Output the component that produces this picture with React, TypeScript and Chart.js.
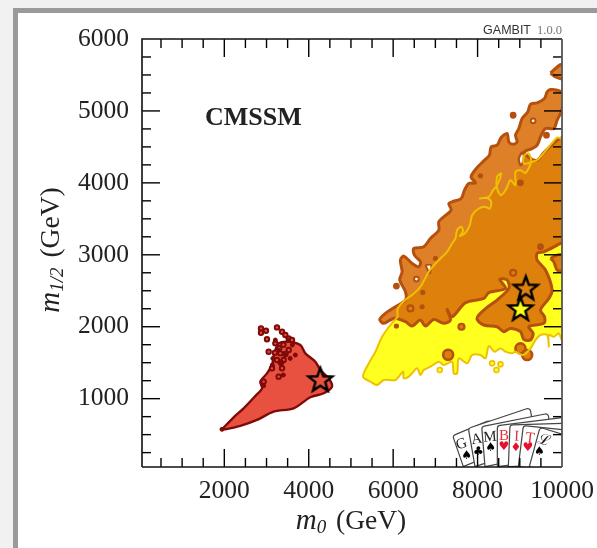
import React, { useEffect, useRef } from "react";
import { Chart, registerables } from "chart.js";

Chart.register(...registerables);

const xTicksMajor = [2000, 4000, 6000, 8000, 10000];
const yTicksMajor = [1000, 2000, 3000, 4000, 5000, 6000];
const xTicksMinor = [500, 1000, 1500, 2500, 3000, 3500, 4500, 5000, 5500, 6500, 7000, 7500, 8500, 9000, 9500];
const yTicksMinor = [250, 500, 750, 1250, 1500, 1750, 2250, 2500, 2750, 3250, 3500, 3750, 4250, 4500, 4750, 5250, 5500, 5750];

type P = [number, number];

const yellowRegion: P[] = [
  [6109, 2139], [6109, 2255], [6330, 2394], [6449, 2440], [6646, 2556], [6844, 2764], [7041, 2903], [7278, 3042],
  [7397, 3158], [7476, 3227], [7515, 3343], [7610, 3389], [7657, 3329], [7578, 3260], [7713, 3306], [7815, 3412],
  [7871, 3551], [8029, 3644], [8187, 3667], [8289, 3644], [8321, 3737], [8210, 3792], [8052, 3783], [8266, 3806],
  [8368, 3899], [8463, 3968], [8558, 4130], [8463, 4084], [8463, 3922], [8558, 3829], [8684, 3922], [8779, 4037],
  [8898, 3968], [8898, 4153], [9016, 4176], [9135, 4139], [9269, 4292], [9214, 4408], [9111, 4385], [9095, 4269],
  [9293, 4292], [9427, 4325], [9688, 4500], [9885, 4630], [9980, 4616], [10040, 4616], [10040, 1815],
  [9996, 1815], [9925, 1908], [9806, 1861], [9688, 1885], [9688, 1723], [9648, 1885], [9490, 1885], [9372, 1815],
  [9253, 1699], [9079, 1607], [8898, 1653], [8819, 1630], [8660, 1653], [8542, 1699], [8400, 1653], [8266, 1732],
  [8187, 1560], [8068, 1607], [7871, 1607], [7752, 1491], [7555, 1560], [7515, 1352], [7436, 1352], [7397, 1514],
  [7199, 1468], [7081, 1514], [6883, 1445], [6725, 1398], [6646, 1329], [6567, 1422], [6370, 1306], [6251, 1283],
  [6235, 1375], [6054, 1260], [5777, 1260], [5619, 1190], [5461, 1236], [5287, 1306], [5422, 1491], [5580, 1653],
  [5738, 1861], [5935, 2024], [6109, 2139],
];

const orangeRegion: P[] = [
  [10040, 4640], [9885, 4590], [9569, 4420], [9411, 4315], [9253, 4338], [9111, 4431], [9293, 4477], [9411, 4524],
  [9490, 4639], [9609, 4755], [9806, 4755], [9885, 4871], [9996, 5010], [10040, 5241], [9885, 5288], [9727, 5297],
  [9648, 5264], [9585, 5172], [9411, 5112], [9253, 5093], [9190, 4987], [9056, 4894], [8977, 4755], [8898, 4663],
  [8937, 4570], [8842, 4537], [8740, 4570], [8700, 4686], [8558, 4630], [8463, 4524], [8321, 4500], [8281, 4385],
  [8147, 4306], [8005, 4223], [7871, 4121], [7847, 4075], [7950, 4000], [7791, 3991], [7689, 3899], [7610, 3783],
  [7397, 3737], [7318, 3713], [7373, 3621], [7199, 3528], [7081, 3459], [7081, 3343], [6883, 3227], [6725, 3111],
  [6488, 3088], [6504, 2996], [6646, 2903], [6607, 2834], [6449, 2880], [6251, 2982], [6172, 2926], [6212, 2764],
  [6156, 2649], [6291, 2487], [6291, 2371], [6054, 2278], [5817, 2186], [5682, 2102], [5777, 2047], [6014, 2116],
  [6291, 2070], [6449, 2010], [6646, 2093], [6765, 2010], [6962, 2102], [7199, 2047], [7357, 2093], [7278, 2241],
  [7397, 2139], [7713, 2334], [8147, 2394], [8266, 2473], [8661, 2533], [8526, 2658], [8700, 2649], [8740, 2533],
  [8463, 2371], [8226, 2269], [8029, 2162], [7989, 2102], [8147, 2024], [8463, 2000], [8621, 1931], [8779, 1977],
  [9016, 1931], [9095, 1824], [9253, 1815], [9316, 1908], [9214, 2000], [9569, 2047], [9585, 2139], [9490, 2232],
  [9688, 2394], [9767, 2510], [9609, 2788], [9411, 2926], [9411, 3019], [9569, 3042], [9885, 3135], [10040, 3204],
  [10040, 4640],
];

const orangeTopPiece: P[] = [[9727, 5528], [9964, 5644], [10040, 5635], [10040, 5450], [9846, 5473], [9727, 5528]];
const orangeRightPiece: P[] = [[9727, 2950], [9885, 2996], [10040, 2996], [10040, 2788], [9885, 2788], [9806, 2903], [9727, 2950]];
const whiteSliver: P[] = [[9056, 4431], [8977, 4338], [9016, 4246], [9079, 4292], [9095, 4385], [9056, 4431]];
const whiteTriangle: P[] = [[6765, 2857], [6899, 2857], [6867, 2741], [6765, 2857]];

const redRegion: P[] = [
  [1945, 574], [2221, 741], [2458, 866], [2735, 1037], [2893, 1144], [2853, 1237], [3011, 1352], [3130, 1468],
  [3185, 1630], [3288, 1769], [3525, 1792], [3801, 1746], [3920, 1630], [4157, 1514], [4275, 1399], [4473, 1283],
  [4552, 1167], [4354, 1075], [4038, 1019], [3643, 866], [3169, 820], [2774, 704], [2379, 621], [2024, 574], [1945, 574],
];

const redSpecks: P[] = [
  [2869, 1977], [2869, 1917], [2987, 1945], [3248, 1991], [3367, 1931], [3525, 1838], [3446, 1885], [3011, 1825],
  [3051, 1653], [3209, 1769], [3327, 1630], [3406, 1537], [3525, 1676], [3248, 1537], [3130, 1422], [3367, 1422],
  [3288, 1306], [2932, 1237], [3603, 1815], [3300, 1700], [3400, 1750], [3450, 1620], [3200, 1640], [3340, 1500],
];
const redSpecksDark: P[] = [
  [3280, 1676], [3446, 1607], [3612, 1746], [3209, 1815], [3327, 1510], [3517, 1815], [3138, 1468], [3398, 1329],
  [3683, 1607], [3150, 1560], [3560, 1560], [1945, 574], [2932, 1180],
];

const yellowSpecks: P[] = [[8345, 1491], [8542, 1477], [8447, 1398], [7104, 1398]];
const orangeBlobsSmall: P[] = [[8068, 4098], [6686, 2278], [6077, 2010], [7002, 2950], [6701, 2477]];
const orangeBlobsMid: P[] = [[8842, 4940], [9632, 4663], [9016, 4000], [6077, 2565], [9490, 3112]];
const orangeRingsSmall: P[] = [[6409, 2255], [8842, 2750], [7618, 2000]];
const orangeRingsLarge: P[] = [[7302, 1611], [9016, 1699], [9174, 1607]];
const whiteRings: P[] = [[9316, 4862], [6551, 2662]];

const bestFitRed: P[] = [[4275, 1260]];
const bestFitOrange: P[] = [[9142, 2533]];
const bestFitYellow: P[] = [[9016, 2246]];

const SERIF = '"Liberation Serif", serif';
const RED = "#e8513f";
const DARKRED = "#7f0a0a";
const YELLOW = "#ffff20";
const GOLD = "#efc000";
const ORANGE = "rgba(217,110,9,0.875)";
const DARKORANGE = "#b5500f";

const pts = (a: P[]) => a.map(([x, y]) => ({ x, y }));

function starImage(fill: string) {
  const c = document.createElement("canvas");
  c.width = 32;
  c.height = 32;
  const g = c.getContext("2d")!;
  g.beginPath();
  for (let i = 0; i < 10; i++) {
    const r = i % 2 ? 5.2 : 12.5;
    const a = -Math.PI / 2 + (i * Math.PI) / 5;
    const px = 16 + r * Math.cos(a);
    const py = 16.5 + r * Math.sin(a);
    if (i) g.lineTo(px, py);
    else g.moveTo(px, py);
  }
  g.closePath();
  g.fillStyle = fill;
  g.fill();
  g.lineWidth = 2.4;
  g.strokeStyle = "#000";
  g.lineJoin = "miter";
  g.stroke();
  return c;
}

function mathLabel(ctx: CanvasRenderingContext2D, sub: string, cx: number, cy: number, rot: number) {
  const main = `27.5px ${SERIF}`;
  const ital = `italic 29px ${SERIF}`;
  const small = `italic 19px ${SERIF}`;
  ctx.save();
  ctx.translate(cx, cy);
  ctx.rotate(rot);
  ctx.fillStyle = "#222";
  ctx.textBaseline = "alphabetic";
  ctx.textAlign = "left";
  ctx.font = ital;
  const mw = ctx.measureText("m").width;
  ctx.font = small;
  const sw = ctx.measureText(sub).width;
  ctx.font = main;
  const rest = " (GeV)";
  const rw = ctx.measureText(rest).width + 3;
  let x = -(mw + sw + rw) / 2;
  ctx.font = ital;
  ctx.fillText("m", x, 8);
  x += mw;
  ctx.font = small;
  ctx.fillText(sub, x, 12);
  x += sw + 3;
  ctx.font = main;
  ctx.fillText(rest, x, 8);
  ctx.restore();
}

const cardGeometry = [
  [38, 122, 150, 75, 70, 215],
  [85, 100, 270, 38, 105, 215],
  [125, 95, 325, 55, 135, 215],
  [172, 92, 445, 58, 172, 215],
  [210, 90, 460, 82, 205, 215],
  [250, 92, 460, 113, 235, 215],
  [300, 97, 460, 147, 268, 215],
];
const cardLetters = ["G", "A", "M", "B", "I", "T", "\u2112"];
const cardSuits = ["\u2660", "\u2663", "\u2660", "\u2665", "\u2666", "\u2665", "\u2660"];
const cardLetterPos = [[65, 148, -19], [110, 133, -10], [150, 127, -5], [192, 123, 0], [230, 125, 2], [270, 130, 7], [312, 138, 15]];
const cardSuitPos = [[80, 182], [115, 170], [152, 160], [192, 157], [228, 160], [264, 160], [298, 172]];

function drawCards(ctx: CanvasRenderingContext2D, area: any) {
  const zx = (v: number) => 440 + v / 3;
  const zy = (v: number) => 395 + v / 3;
  ctx.save();
  ctx.beginPath();
  ctx.rect(area.left, area.top, area.right - area.left, area.bottom - area.top);
  ctx.clip();
  cardGeometry.forEach((g, i) => {
    const [tlx, tly, trx, try_, blx, bly] = g.map((v, k) => (k % 2 ? zy(v) : zx(v)));
    const brx = trx + (blx - tlx);
    const bry = try_ + (bly - tly);
    ctx.beginPath();
    ctx.moveTo(blx, bly);
    ctx.arcTo(tlx, tly, trx, try_, 3);
    ctx.arcTo(trx, try_, brx, bry, 3);
    ctx.lineTo(brx, bry);
    ctx.closePath();
    ctx.fillStyle = "#fff";
    ctx.fill();
    ctx.strokeStyle = "#444";
    ctx.lineWidth = 1.2;
    ctx.stroke();
    const color = i >= 3 && i <= 5 ? "#e8303c" : "#222";
    ctx.fillStyle = color;
    ctx.textAlign = "center";
    ctx.textBaseline = "middle";
    const [lx, ly, rot] = cardLetterPos[i];
    ctx.save();
    ctx.translate(zx(lx), zy(ly));
    ctx.rotate((rot * Math.PI) / 180);
    ctx.font = `15px ${SERIF}`;
    ctx.fillText(cardLetters[i], 0, 0);
    ctx.restore();
    const [sx, sy] = cardSuitPos[i];
    ctx.font = `12px "DejaVu Sans"`;
    ctx.fillStyle = i >= 3 && i <= 5 ? "#e8102c" : "#000";
    ctx.fillText(cardSuits[i], zx(sx), zy(sy));
  });
  ctx.restore();
}

const framePlugin = {
  id: "frame",
  beforeDraw(chart: any) {
    const { ctx, width, height } = chart;
    ctx.save();
    ctx.fillStyle = "#f2f1f1";
    ctx.fillRect(0, 0, width, height);
    ctx.fillStyle = "#9a9a9a";
    ctx.fillRect(13, 8, width - 13, height - 8);
    ctx.fillStyle = "#fff";
    ctx.fillRect(18, 13, width - 18, height - 13);
    ctx.restore();
  },
  afterDatasetsDraw(chart: any) {
    const { ctx, chartArea: a, scales } = chart;
    const x = scales.x;
    const y = scales.y;
    drawCards(ctx, a);
    ctx.save();
    ctx.strokeStyle = "#000";
    ctx.lineWidth = 1.4;
    const tick = (x1: number, y1: number, x2: number, y2: number) => {
      ctx.beginPath();
      ctx.moveTo(x1, y1);
      ctx.lineTo(x2, y2);
      ctx.stroke();
    };
    const vx = (v: number, len: number) => {
      const p = x.getPixelForValue(v);
      tick(p, a.top, p, a.top + len);
      tick(p, a.bottom, p, a.bottom - len);
    };
    const vy = (v: number, len: number) => {
      const p = y.getPixelForValue(v);
      tick(a.left, p, a.left + len, p);
      tick(a.right, p, a.right - len, p);
    };
    xTicksMinor.forEach((v) => vx(v, 9));
    xTicksMajor.filter((v) => v < 10000).forEach((v) => vx(v, 18));
    yTicksMinor.forEach((v) => vy(v, 9));
    yTicksMajor.filter((v) => v < 6000).forEach((v) => vy(v, 18));
    ctx.strokeStyle = "#111";
    ctx.lineWidth = 1.6;
    ctx.beginPath();
    ctx.moveTo(a.left, a.bottom);
    ctx.lineTo(a.left, a.top);
    ctx.lineTo(a.right, a.top);
    ctx.stroke();
    tick(a.left, a.bottom, a.right, a.bottom);
    ctx.strokeStyle = "#555";
    ctx.lineWidth = 1.8;
    tick(a.right, a.top, a.right, a.bottom);
    ctx.restore();

    ctx.save();
    ctx.fillStyle = "#222";
    ctx.textBaseline = "alphabetic";
    ctx.font = `bold 26px ${SERIF}`;
    ctx.textAlign = "left";
    ctx.fillText("CMSSM", 205, 125);
    ctx.textAlign = "right";
    ctx.font = `12.5px ${SERIF}`;
    ctx.fillStyle = "#777";
    ctx.fillText("1.0.0", 562, 34);
    const w = ctx.measureText("1.0.0").width;
    ctx.font = `12.5px "Liberation Sans"`;
    ctx.fillStyle = "#333";
    ctx.fillText("GAMBIT", 562 - w - 6, 34);
    ctx.restore();

    mathLabel(ctx, "0", 351, 521, 0);
    mathLabel(ctx, "1/2", 51, 250, -Math.PI / 2);
  },
};

const region = (data: P[], fill: string, border: string, order: number, width = 2.2) => ({
  data: pts(data),
  showLine: true,
  fill: fill === "none" ? false : "shape",
  backgroundColor: fill,
  borderColor: border,
  borderWidth: width,
  tension: 0.3,
  pointRadius: 0,
  order,
  borderJoinStyle: "round",
});

const dots = (data: P[], fill: string, border: string, radius: number, order: number, width = 1.6) => ({
  data: pts(data),
  showLine: false,
  backgroundColor: fill,
  borderColor: border,
  borderWidth: width,
  pointRadius: radius,
  pointStyle: "circle",
  order,
});

export default function App() {
  const ref = useRef<HTMLCanvasElement>(null);
  useEffect(() => {
    const star = (data: P[], fill: string, order: number) => ({
      data: pts(data),
      showLine: false,
      pointStyle: starImage(fill),
      pointRadius: 14,
      order,
      clip: false,
    });
    const chart = new Chart(ref.current!, {
      type: "scatter",
      plugins: [framePlugin],
      data: {
        datasets: [
          region(yellowRegion, YELLOW, "transparent", 100, 0),
          dots(yellowSpecks, YELLOW, GOLD, 2.5, 99),
          region(orangeRegion, ORANGE, DARKORANGE, 90, 3),
          region(orangeTopPiece, ORANGE, DARKORANGE, 89, 3),
          region(orangeRightPiece, ORANGE, DARKORANGE, 88, 3),
          region(whiteSliver, "#fff", DARKORANGE, 87, 2.2),
          region(whiteTriangle, "#fff", DARKORANGE, 86, 2),
          dots(whiteRings, "#fff", DARKORANGE, 2.4, 85, 2),
          dots(orangeBlobsSmall, DARKORANGE, DARKORANGE, 1.8, 84),
          dots(orangeBlobsMid, DARKORANGE, DARKORANGE, 2.6, 83),
          dots(orangeRingsSmall, "#dc7f0c", DARKORANGE, 3, 82, 2.2),
          dots(orangeRingsLarge, "#dc7f0c", DARKORANGE, 5, 81, 2.6),
          region(yellowRegion, "none", GOLD, 70, 2),
          region(redRegion, RED, DARKRED, 60, 2.4),
          dots(redSpecks, RED, DARKRED, 2.2, 59, 2),
          dots(redSpecksDark, DARKRED, DARKRED, 2, 58, 1),
          star(bestFitRed, RED, 5),
          star(bestFitOrange, "#dc7f0c", 4),
          star(bestFitYellow, YELLOW, 3),
        ] as any,
      },
      options: {
        animation: false,
        responsive: false,
        layout: { autoPadding: false, padding: { left: 0, top: 39, right: 35, bottom: 0 } },
        plugins: { legend: { display: false }, tooltip: { enabled: false }, title: { display: false } },
        scales: {
          x: {
            type: "linear",
            min: 50,
            max: 10000,
            grid: { display: false, drawTicks: false },
            border: { display: false },
            afterBuildTicks: (s: any) => {
              s.ticks = xTicksMajor.map((value) => ({ value }));
            },
            afterFit: (s: any) => {
              s.height = 81;
              s.paddingLeft = 0;
              s.paddingRight = 0;
            },
            ticks: {
              autoSkip: false,
              maxRotation: 0,
              padding: 9,
              color: "#222",
              font: { family: "Liberation Serif", size: 25.5 },
              callback: (v: any) => String(v),
            },
          },
          y: {
            type: "linear",
            min: 50,
            max: 6000,
            grid: { display: false, drawTicks: false },
            border: { display: false },
            afterBuildTicks: (s: any) => {
              s.ticks = yTicksMajor.map((value) => ({ value }));
            },
            afterFit: (s: any) => {
              s.width = 142;
              s.paddingTop = 0;
              s.paddingBottom = 0;
            },
            ticks: {
              autoSkip: false,
              padding: 13,
              color: "#222",
              font: { family: "Liberation Serif", size: 25.5 },
              callback: (v: any) => String(v),
            },
          },
        },
      } as any,
    });
    return () => chart.destroy();
  }, []);
  return (
    <div style={{ position: "fixed", left: 0, top: 0, width: 597, height: 548 }}>
      <canvas ref={ref} width={597} height={548} style={{ display: "block" }} />
    </div>
  );
}
